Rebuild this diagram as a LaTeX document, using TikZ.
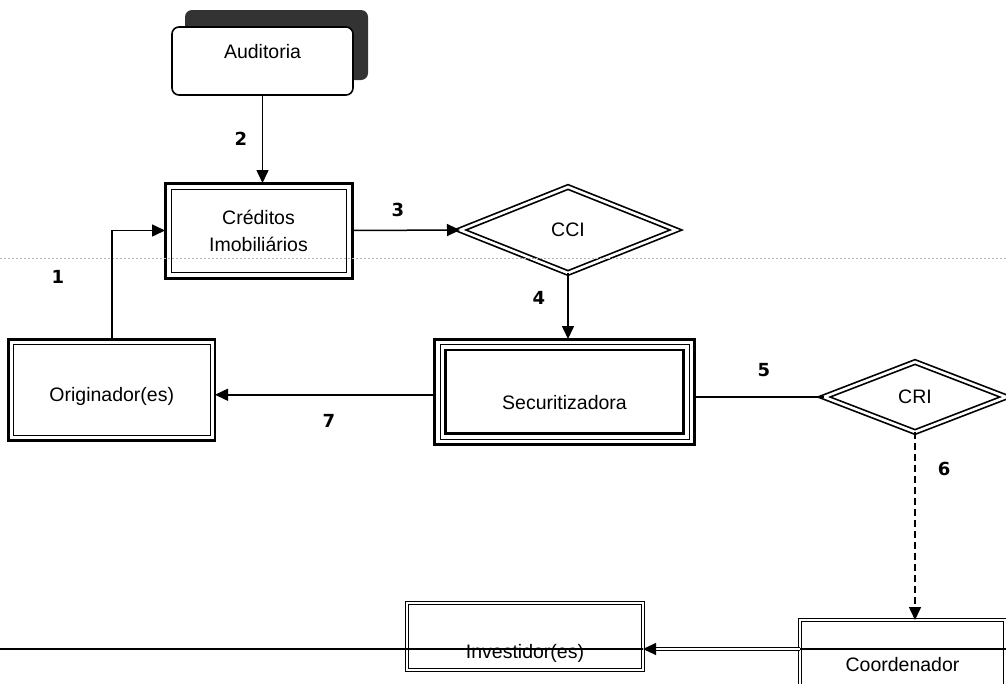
\documentclass[tikz,border=0pt]{standalone}
\usepackage{fontspec}
\setmainfont{Liberation Sans}
\newfontfamily\numfont{DejaVu Sans}
\usetikzlibrary{arrows.meta,shapes.geometric,calc}

% raise a box's ink without changing its reported size
\newcommand{\liftby}[2]{\raisebox{#1}[\height][\depth]{#2}}

\begin{document}
\begin{tikzpicture}[x=1pt,y=-1pt,
  txt/.style={font=\fontsize{19.5}{27}\selectfont, align=center},
  num/.style={font=\numfont\bfseries\fontsize{18}{18}\selectfont, inner sep=0pt},
  conn/.style={line width=1.5pt},
  arrowed/.style={-{Triangle[length=13pt,width=12pt]}},
  plainbox/.style={rectangle, draw, outer sep=0pt, inner sep=0pt, txt},
  twinline/.style={draw, double, double distance=2.2pt, line width=1.1pt},
  gem/.style={diamond, outer sep=0pt, inner sep=0pt, txt, draw, double,
    double distance=2.6pt, line width=1.7pt},
]
\clip (0,0) rectangle (1006,683);
\fill[white] (0,0) rectangle (1006,683);

% ---- Auditoria with its shadow
\fill[black!80, rounded corners=7pt] (185,10) rectangle (368,80);
\node[plainbox, fill=white, rounded corners=7pt, line width=1.6pt,
  minimum width=181pt, minimum height=68pt] (aud) at (262.5,61)
  {\liftby{9.5pt}{Auditoria}};

% ---- Créditos Imobiliários
\node[plainbox, line width=3pt, minimum width=187pt, minimum height=95pt]
  (cred) at (258.5,230.5) {Créditos\\Imobiliários};
\draw[line width=1pt] ([shift={(6pt,-6pt)}]cred.north west)
  rectangle ([shift={(-6pt,6pt)}]cred.south east);

% ---- CCI
\node[gem, minimum width=216pt, minimum height=86pt] (cci) at (568,230) {CCI};

% ---- Securitizadora
\node[plainbox, line width=3pt, minimum width=260pt, minimum height=105.5pt]
  (secu) at (564.5,391.75) {\liftby{-11pt}{Securitizadora}};
\draw[line width=1pt] ([shift={(5.5pt,-5.5pt)}]secu.north west)
  rectangle ([shift={(-5.5pt,5.5pt)}]secu.south east);
\draw[line width=2.5pt] ([shift={(11pt,-11pt)}]secu.north west)
  rectangle ([shift={(-11pt,11pt)}]secu.south east);

% ---- Originador(es)
\node[plainbox, line width=2.5pt, minimum width=206.5pt, minimum height=101pt]
  (orig) at (111.75,390) {\liftby{-6.5pt}{Originador(es)}};
\draw[line width=1pt] ([shift={(5pt,-5pt)}]orig.north west)
  rectangle ([shift={(-5pt,5pt)}]orig.south east);

% ---- CRI
\node[gem, minimum width=182pt, minimum height=70pt] (cri) at (915,397) {CRI};

% ---- Investidor(es) and Coordenador
\node[plainbox, twinline, minimum width=236pt, minimum height=67pt]
  (inv) at (525,636.5) {\liftby{-16.5pt}{Investidor(es)}};
\node[plainbox, twinline, minimum width=205pt, minimum height=96pt]
  (coord) at (902.5,668) {\liftby{3pt}{Coordenador}};

% ---- grey dotted guide across the sheet
\coordinate (gl) at (0,258);
\coordinate (gr) at (1006,258);
\draw[gray!60, line width=0.7pt, dash pattern=on 2pt off 2pt] (gl) -- (gr);

% ---- connectors
\draw[conn, arrowed] (aud.south) -- (aud.south |- cred.north);
\draw[conn, arrowed] (orig.north) |- (cred.west);
\draw[conn, arrowed] (cred.east) -- (cci.west);
\draw[conn, arrowed] (cci.south) -- (cci.south |- secu.north);
\draw[conn, arrowed] ([yshift=-3pt]secu.west) -- ([yshift=-3pt]secu.west -| orig.east);
\draw[conn] (secu.east |- cri.west) -- (cri.west);
\draw[conn, arrowed, dash pattern=on 7pt off 4pt] (cri.south) -- (cri.south |- coord.north);

% ---- long line at the bottom
\coordinate (farleft) at (0,649);
\coordinate (farright) at (1006,649);
\draw[line width=1.2pt] (farleft) -- (farleft -| inv.east);
\draw[twinline, line width=0.9pt, double distance=2pt, arrowed]
  (farleft -| coord.west) -- (farleft -| inv.east);
\draw[line width=1.2pt] (farleft -| coord.west) -- (farright);

% ---- step numbers
\node[num] (n1) at (58,277) {1};
\node[num] (n2) at (241,139) {2};
\node[num] (n3) at (398,210) {3};
\node[num] (n4) at (539,298) {4};
\node[num] (n5) at (764,370) {5};
\node[num] (n6) at (944,469) {6};
\node[num] (n7) at (329,421) {7};
\end{tikzpicture}
\end{document}
